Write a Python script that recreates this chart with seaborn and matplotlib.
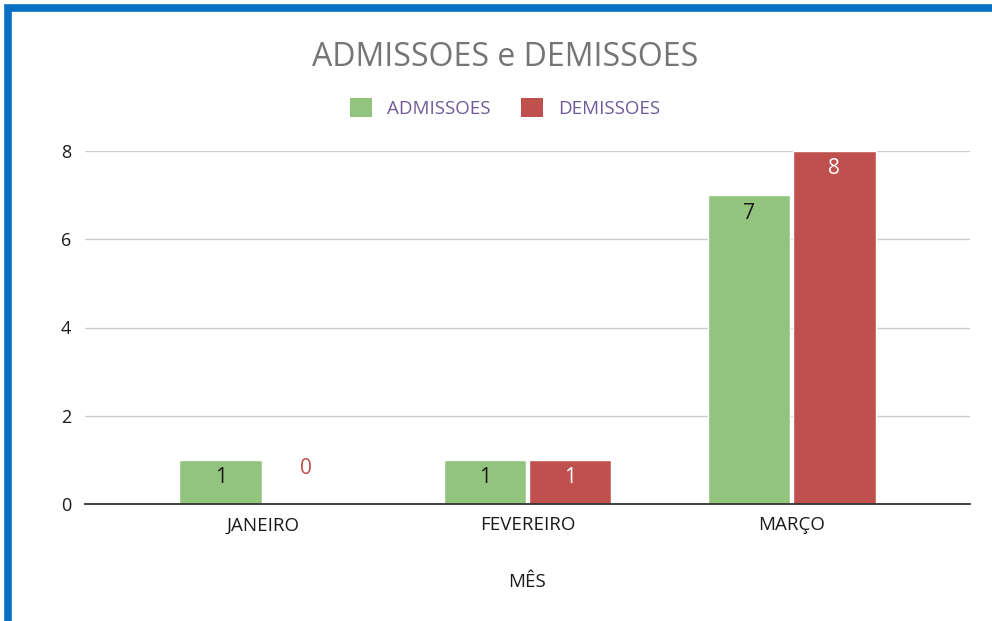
import pandas as pd
import matplotlib
matplotlib.use("Agg")
import matplotlib.pyplot as plt
import seaborn as sns
from matplotlib.patches import Rectangle

meses = ["JANEIRO", "FEVEREIRO", "MARÇO"]
admissoes = [1, 1, 7]
demissoes = [0, 1, 8]
series = ["ADMISSOES", "DEMISSOES"]
yticks = [0, 2, 4, 6, 8]

df = pd.DataFrame({
    "MÊS": meses * 2,
    "valor": admissoes + demissoes,
    "serie": [series[0]] * 3 + [series[1]] * 3,
})

sns.set_style("white")
plt.rcParams["font.family"] = ["Open Sans", "DejaVu Sans"]

cores = {"ADMISSOES": "#93c47d", "DEMISSOES": "#c0504d"}

fig = plt.figure(figsize=(9.92, 6.21), dpi=100)
ax = fig.add_axes([85 / 992, 1 - 504 / 621, 885 / 992, 353 / 621])

sns.barplot(data=df, x="MÊS", y="valor", hue="serie", palette=cores,
            width=0.645, gap=0.03, saturation=1, ax=ax, legend=False)

ax.set_xlim(-0.675, 2.675)
ax.set_ylim(0, 8)
ax.set_yticks(yticks)
ax.tick_params(axis="y", length=0, labelsize=13, pad=10, labelcolor="#1a1a1a")
ax.tick_params(axis="x", length=0, labelsize=13.5, pad=9, labelcolor="#1a1a1a")
ax.yaxis.grid(True, color="#cccccc", linewidth=1)
ax.set_axisbelow(True)
for s in ["left", "right", "top"]:
    ax.spines[s].set_visible(False)
ax.spines["bottom"].set_color("#333333")
ax.spines["bottom"].set_linewidth(1.3)
ax.set_ylabel("")
ax.set_xlabel("MÊS", fontsize=13.5, color="#1a1a1a", labelpad=28)

# rotulos de valor
for cont, serie in zip(ax.containers, series):
    for barra in cont:
        h = barra.get_height()
        x = barra.get_x() + barra.get_width() / 2
        if h > 0:
            ax.annotate(f"{h:.0f}", (x, h), xytext=(0, -18), textcoords="offset pixels",
                        ha="center", va="center", fontsize=15,
                        color="#1a1a1a" if serie == "ADMISSOES" else "white")
        else:
            ax.annotate(f"{h:.0f}", (x, h), xytext=(0, 35), textcoords="offset pixels",
                        ha="center", va="center", fontsize=15, color=cores[serie])

fig.text(505 / 992, 1 - 58 / 621, "ADMISSOES e DEMISSOES", ha="center", va="center",
         fontsize=23, color="#757575")

handles = [Rectangle((0, 0), 1, 1, facecolor=cores[s], edgecolor="none") for s in series]
leg = fig.legend(handles, series, loc="center", bbox_to_anchor=(505 / 992, 1 - 108 / 621),
                 ncol=2, frameon=False, fontsize=13.5, handlelength=1.2, handleheight=1.2,
                 columnspacing=1.6, handletextpad=0.8)
for t in leg.get_texts():
    t.set_color("#6e5a9a")

# moldura azul (topo e esquerda)
fig.add_artist(Rectangle((8 / 992, -0.1), 1.2, 1.1 - 8 / 621, transform=fig.transFigure,
                         fill=False, edgecolor="#0a6fc2", linewidth=5.5))

fig.savefig("out.png", dpi=100)
